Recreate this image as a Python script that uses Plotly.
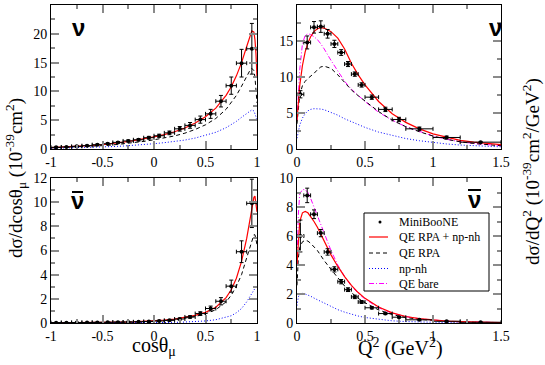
import plotly.graph_objects as go
from plotly.subplots import make_subplots

# ---- data: neutrino / antineutrino, cos(theta_mu) ----
cos_bins = [-0.95, -0.85, -0.75, -0.65, -0.55, -0.45, -0.35, -0.25, -0.15, -0.05,
            0.05, 0.15, 0.25, 0.35, 0.45, 0.55, 0.65, 0.75, 0.85, 0.95]
cos_halfwidth = [0.05] * 20

nu_cos_data = [0.3, 0.35, 0.46, 0.58, 0.75, 0.92, 1.15, 1.4, 1.6, 1.96,
               2.3, 2.8, 3.5, 4.1, 5.1, 6.1, 8.3, 11.0, 14.9, 17.4]
nu_cos_err = [0.08, 0.08, 0.09, 0.1, 0.11, 0.13, 0.15, 0.17, 0.2, 0.23,
              0.27, 0.32, 0.4, 0.5, 0.62, 0.78, 1.0, 1.5, 2.4, 4.4]

nubar_cos_data = [0.03, 0.03, 0.04, 0.04, 0.05, 0.06, 0.07, 0.08, 0.1, 0.12,
                  0.17, 0.22, 0.33, 0.5, 0.78, 1.2, 1.8, 3.05, 5.9, 9.9]
nubar_cos_err = [0.02, 0.02, 0.02, 0.02, 0.02, 0.02, 0.03, 0.03, 0.03, 0.04,
                 0.05, 0.06, 0.08, 0.1, 0.15, 0.2, 0.3, 0.5, 0.9, 2.0]

cos_grid = [-1, -0.9, -0.8, -0.7, -0.6, -0.5, -0.4, -0.3, -0.2, -0.1, 0, 0.1, 0.2, 0.3,
            0.4, 0.5, 0.6, 0.7, 0.75, 0.8, 0.85, 0.9, 0.93, 0.95, 0.97, 0.98, 0.99, 1.0]

nu_cos_full = [0.25, 0.32, 0.4, 0.5, 0.62, 0.77, 0.95, 1.18, 1.45, 1.75, 2.1, 2.5, 3.0, 3.65,
               4.5, 5.6, 7.1, 9.3, 10.8, 12.7, 15.0, 17.8, 19.6, 20.5, 20.3, 19.0, 16.5, 12.5]
nu_cos_rpa = [0.2, 0.25, 0.31, 0.38, 0.47, 0.58, 0.71, 0.88, 1.08, 1.32, 1.6, 1.9, 2.27, 2.75,
              3.4, 4.2, 5.3, 6.9, 8.0, 9.3, 10.9, 12.6, 13.6, 14.0, 13.6, 12.5, 10.5, 8.0]
nu_cos_npnh = [0.12, 0.15, 0.19, 0.23, 0.28, 0.34, 0.42, 0.51, 0.62, 0.76, 0.92, 1.1, 1.3, 1.55,
               1.9, 2.35, 2.9, 3.7, 4.2, 4.8, 5.5, 6.2, 6.6, 6.8, 6.6, 6.2, 5.6, 4.8]

nubar_cos_full = [0.02, 0.02, 0.03, 0.03, 0.04, 0.05, 0.06, 0.08, 0.1, 0.13, 0.17, 0.23, 0.32, 0.45,
                  0.63, 0.88, 1.3, 2.1, 2.75, 3.7, 5.1, 7.0, 8.5, 9.5, 10.4, 10.5, 10.0, 9.2]
nubar_cos_rpa = [0.02, 0.02, 0.02, 0.03, 0.03, 0.04, 0.05, 0.07, 0.09, 0.11, 0.14, 0.19, 0.27, 0.38,
                 0.54, 0.75, 1.1, 1.75, 2.3, 3.05, 4.0, 5.4, 6.3, 6.9, 7.3, 7.3, 7.0, 6.5]
nubar_cos_npnh = [0.0, 0.0, 0.0, 0.0, 0.0, 0.0, 0.0, 0.01, 0.01, 0.01, 0.02, 0.03, 0.05, 0.08,
                  0.12, 0.17, 0.27, 0.45, 0.6, 0.85, 1.2, 1.75, 2.2, 2.5, 2.8, 2.9, 3.0, 3.0]

# ---- data: Q^2 ----
q2_bins = [0.025, 0.075, 0.125, 0.175, 0.225, 0.275, 0.325, 0.375, 0.425, 0.475,
           0.55, 0.65, 0.75, 0.9, 1.1, 1.35]
q2_halfwidth = [0.025] * 10 + [0.05, 0.05, 0.05, 0.1, 0.1, 0.15]

nu_q2_data = [7.6, 14.8, 16.9, 17.0, 16.0, 14.6, 13.4, 11.8, 10.4, 8.9,
              7.2, 5.5, 4.1, 2.8, 1.6, 0.95]
nu_q2_err = [0.5, 0.9, 0.8, 0.8, 0.6, 0.5, 0.4, 0.35, 0.3, 0.3,
             0.3, 0.3, 0.3, 0.25, 0.2, 0.1]

nubar_q2_data = [6.0, 8.8, 7.5, 6.2, 4.9, 3.7, 2.85, 2.3, 1.8, 1.45,
                 1.05, 0.65, 0.4, 0.22, 0.12, 0.05]
nubar_q2_err = [1.1, 0.5, 0.3, 0.25, 0.22, 0.18, 0.15, 0.13, 0.12, 0.1,
                0.08, 0.07, 0.05, 0.04, 0.03, 0.02]

q2_grid = [0, 0.01, 0.02, 0.04, 0.06, 0.08, 0.1, 0.125, 0.15, 0.175, 0.2, 0.25, 0.3, 0.35,
           0.4, 0.45, 0.5, 0.6, 0.7, 0.8, 0.9, 1.0, 1.1, 1.2, 1.3, 1.4, 1.5]

nu_q2_full = [4.0, 6.8, 8.8, 11.6, 13.5, 14.7, 15.6, 16.3, 16.7, 16.85, 16.8, 16.3, 15.4, 13.9,
              11.9, 10.3, 8.9, 6.6, 4.9, 3.7, 2.8, 2.1, 1.6, 1.2, 0.95, 0.75, 0.6]
nu_q2_rpa = [3.5, 6.0, 7.5, 8.8, 9.4, 9.8, 10.1, 10.5, 11.0, 11.4, 11.5, 11.2, 10.3, 9.2,
             8.2, 7.4, 6.7, 5.2, 4.0, 3.1, 2.4, 1.8, 1.35, 1.0, 0.77, 0.6, 0.45]
nu_q2_npnh = [1.5, 2.6, 3.3, 4.3, 4.9, 5.3, 5.5, 5.6, 5.6, 5.55, 5.45, 5.1, 4.7, 4.2,
              3.8, 3.4, 3.0, 2.35, 1.85, 1.45, 1.15, 0.9, 0.7, 0.55, 0.45, 0.36, 0.3]
nu_q2_bare = [4.0, 8.0, 11.0, 14.6, 15.8, 16.0, 15.9, 15.6, 15.2, 14.6, 13.9, 12.3, 10.8, 9.4,
              8.3, 7.4, 6.6, 5.1, 4.0, 3.1, 2.4, 1.8, 1.35, 1.0, 0.77, 0.6, 0.45]

nubar_q2_full = [4.0, 6.0, 7.0, 7.6, 7.7, 7.6, 7.35, 7.0, 6.6, 6.1, 5.6, 4.7, 3.9, 3.2,
                 2.6, 2.1, 1.7, 1.1, 0.7, 0.45, 0.3, 0.2, 0.13, 0.09, 0.06, 0.04, 0.03]
nubar_q2_rpa = [2.6, 4.5, 5.2, 5.6, 5.7, 5.65, 5.5, 5.25, 5.0, 4.65, 4.3, 3.7, 3.1, 2.55,
                2.1, 1.7, 1.4, 0.9, 0.58, 0.38, 0.25, 0.16, 0.11, 0.07, 0.05, 0.03, 0.02]
nubar_q2_npnh = [1.2, 1.8, 2.0, 2.05, 2.0, 1.95, 1.85, 1.72, 1.6, 1.47, 1.35, 1.12, 0.92, 0.75,
                 0.6, 0.48, 0.38, 0.24, 0.15, 0.1, 0.06, 0.04, 0.03, 0.02, 0.01, 0.01, 0.0]
nubar_q2_bare = [4.0, 7.5, 8.9, 9.2, 9.2, 9.0, 8.6, 8.0, 7.4, 6.8, 6.2, 5.0, 4.0, 3.2,
                 2.55, 2.05, 1.65, 1.05, 0.68, 0.44, 0.29, 0.19, 0.13, 0.09, 0.06, 0.04, 0.03]

cos_ticks = [-1, -0.5, 0, 0.5, 1]
cos_ticktext = ["-1", "-0.5", "0", "0.5", "1"]
legend_names = ["MiniBooNE", "QE RPA + np-nh", "QE RPA", "np-nh", "QE bare"]

SERIF = "Liberation Serif, Times New Roman, serif"
STYLES = {
    "QE RPA + np-nh": dict(color="red", width=1.2, dash="solid"),
    "QE RPA": dict(color="black", width=1, dash="4px,3px"),
    "np-nh": dict(color="blue", width=1, dash="1px,2px"),
    "QE bare": dict(color="magenta", width=1, dash="5px,2px,1px,2px"),
}

fig = make_subplots(rows=2, cols=2)


def add_panel(row, col, grid, curves, xb, xw, yd, ye):
    for name, vals in curves.items():
        fig.add_trace(go.Scatter(x=grid, y=vals, mode="lines", name=name,
                                 line=STYLES[name], showlegend=False),
                      row=row, col=col)
    fig.add_trace(go.Scatter(
        x=xb, y=yd, mode="markers", name="MiniBooNE",
        marker=dict(color="black", size=4),
        error_x=dict(type="data", array=xw, color="black", thickness=1, width=2),
        error_y=dict(type="data", array=ye, color="black", thickness=1, width=2),
        showlegend=False,
    ), row=row, col=col)


add_panel(1, 1, cos_grid, {"QE RPA + np-nh": nu_cos_full, "QE RPA": nu_cos_rpa,
                           "np-nh": nu_cos_npnh},
          cos_bins, cos_halfwidth, nu_cos_data, nu_cos_err)
add_panel(1, 2, q2_grid, {"QE bare": nu_q2_bare, "np-nh": nu_q2_npnh,
                          "QE RPA": nu_q2_rpa, "QE RPA + np-nh": nu_q2_full},
          q2_bins, q2_halfwidth, nu_q2_data, nu_q2_err)
add_panel(2, 1, cos_grid, {"QE RPA + np-nh": nubar_cos_full, "QE RPA": nubar_cos_rpa,
                           "np-nh": nubar_cos_npnh},
          cos_bins, cos_halfwidth, nubar_cos_data, nubar_cos_err)
add_panel(2, 2, q2_grid, {"QE bare": nubar_q2_bare, "np-nh": nubar_q2_npnh,
                          "QE RPA": nubar_q2_rpa, "QE RPA + np-nh": nubar_q2_full},
          q2_bins, q2_halfwidth, nubar_q2_data, nubar_q2_err)

W, H = 545, 365


def px(x):
    return x / W


def py(y):
    return 1 - y / H


xdom = {1: [px(51), px(257)], 2: [px(297), px(501)]}
ydom = {1: [py(149), py(5)], 2: [py(323), py(178)]}

axis_common = dict(
    showline=True, linecolor="black", linewidth=1, mirror="ticks",
    ticks="inside", ticklen=8, tickwidth=2, tickcolor="#8a8a8a",
    showgrid=False, zeroline=False, automargin=False,
    tickfont=dict(family=SERIF, size=14, color="black"),
)
minor_common = dict(ticks="inside", ticklen=4, tickwidth=2, tickcolor="#8a8a8a", showgrid=False)

for r in (1, 2):
    fig.update_xaxes(domain=xdom[1], range=[-1, 1], tickvals=cos_ticks, ticktext=cos_ticktext,
                     minor=dict(dtick=0.25, tick0=0, **minor_common),
                     row=r, col=1, **axis_common)
    fig.update_xaxes(domain=xdom[2], range=[0, 1.5], dtick=0.5, tick0=0,
                     minor=dict(dtick=0.25, tick0=0, **minor_common),
                     row=r, col=2, **axis_common)

fig.update_yaxes(domain=ydom[1], range=[0, 25], dtick=5,
                 minor=dict(dtick=2.5, **minor_common), row=1, col=1, **axis_common)
fig.update_yaxes(domain=ydom[1], range=[0, 20], dtick=5,
                 minor=dict(dtick=2.5, **minor_common), row=1, col=2, **axis_common)
fig.update_yaxes(domain=ydom[2], range=[0, 12], dtick=2,
                 minor=dict(dtick=1, **minor_common), row=2, col=1, **axis_common)
fig.update_yaxes(domain=ydom[2], range=[0, 10], dtick=2,
                 minor=dict(dtick=1, **minor_common), row=2, col=2, **axis_common)

nu_font = dict(family="Liberation Sans", size=24, color="black")
annots = [
    dict(x=px(78), y=py(27), text="<b>ν</b>", font=nu_font),
    dict(x=px(495), y=py(27), text="<b>ν</b>", font=nu_font),
    dict(x=px(77), y=py(201), text="<b>ν</b>", font=nu_font),
    dict(x=px(474), y=py(199), text="<b>ν</b>", font=nu_font),
    dict(x=px(154), y=py(346), text="cosθ<sub>μ</sub>", font=dict(family=SERIF, size=20)),
    dict(x=px(400), y=py(347), text="Q<sup>2</sup> (GeV<sup>2</sup>)",
         font=dict(family=SERIF, size=20)),
    dict(x=px(15), y=py(178), textangle=-90,
         text="dσ/dcosθ<sub>μ</sub> (10<sup>-39</sup>cm<sup>2</sup>)",
         font=dict(family=SERIF, size=19)),
    dict(x=px(531), y=py(172), textangle=-90,
         text="dσ/dQ<sup>2</sup> (10<sup>-39</sup>cm<sup>2</sup>/GeV<sup>2</sup>)",
         font=dict(family=SERIF, size=19)),
]
for a in annots:
    fig.add_annotation(xref="paper", yref="paper", showarrow=False,
                       xanchor="center", yanchor="middle", **a)

# overbars for the antineutrino labels
for x0, x1, yb in [(72, 83, 192), (468, 481, 190)]:
    fig.add_shape(type="line", xref="paper", yref="paper",
                  x0=px(x0), x1=px(x1), y0=py(yb), y1=py(yb),
                  line=dict(color="black", width=2))

# legend box (drawn by hand to match the compact row spacing)
fig.add_shape(type="rect", xref="paper", yref="paper",
              x0=px(364), x1=px(489), y0=py(291), y1=py(213),
              line=dict(color="black", width=1), fillcolor="white", layer="above")
row_y = [222, 237, 253, 268.5, 283.5]
for name, yy in zip(legend_names, row_y):
    if name == "MiniBooNE":
        fig.add_shape(type="circle", xref="paper", yref="paper",
                      x0=px(378.5), x1=px(381.5), y0=py(yy + 1.5), y1=py(yy - 1.5),
                      fillcolor="black", line=dict(color="black", width=0), layer="above")
    else:
        st = STYLES[name]
        fig.add_shape(type="line", xref="paper", yref="paper",
                      x0=px(369), x1=px(388), y0=py(yy), y1=py(yy), layer="above",
                      line=dict(color=st["color"], width=st["width"], dash=st["dash"]))
    fig.add_annotation(xref="paper", yref="paper", showarrow=False,
                       x=px(397), y=py(yy), xanchor="left", yanchor="middle",
                       text=name, font=dict(family=SERIF, size=12, color="black"))

fig.update_layout(
    width=W, height=H,
    margin=dict(l=0, r=0, t=0, b=0),
    plot_bgcolor="white", paper_bgcolor="white",
    font=dict(family=SERIF, color="black"),
    showlegend=False,
)

fig.write_html("out.html", config={"displayModeBar": False},
               post_script="document.body.style.margin='0';")
